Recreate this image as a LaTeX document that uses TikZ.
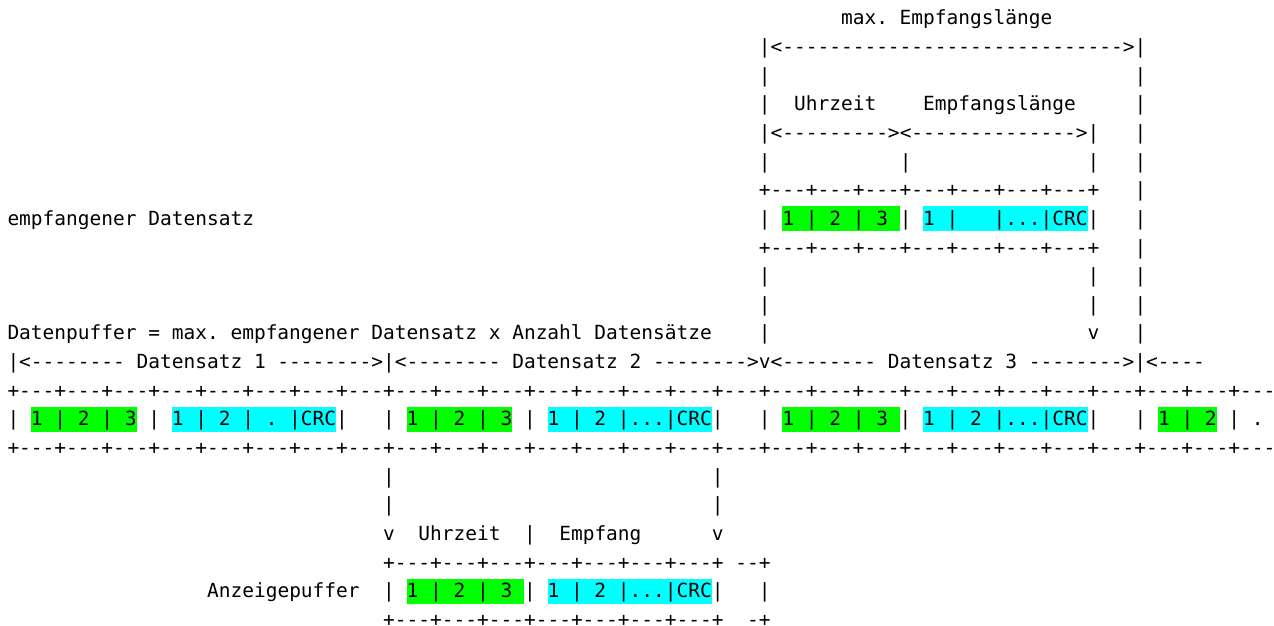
\documentclass[tikz,border=0pt]{standalone}
\usepackage{fontspec}
\setmonofont{DejaVu Sans Mono}
\definecolor{hlgreen}{HTML}{00FF00}
\definecolor{hlcyan}{HTML}{00FFFF}
\tikzset{txt/.style={anchor=base west, inner sep=0pt, outer sep=0pt,
  font=\ttfamily\fontsize{19.5pt}{28pt}\selectfont\frenchspacing}}
\newcommand\putt[4]{\node[txt] (#1) at (#2,#3) {#4};}
\newcommand\hilite[4]{\fill[#1] (#2,#3) ++(0pt,19pt) rectangle ++(#4*11.74pt,-25pt);}
\begin{document}
\begin{tikzpicture}
\useasboundingbox (0pt,0pt) rectangle (1274pt,-626pt);
\fill[white] (0pt,0pt) rectangle (1274pt,-626pt);
\begin{scope}[x=11.74pt, y=-28.64pt, shift={(7.5pt,3.74pt)}]
% highlights
\hilite{hlgreen}{66}{8}{10}
\hilite{hlcyan}{78}{8}{14}
\hilite{hlgreen}{2}{15}{9}
\hilite{hlcyan}{14}{15}{14}
\hilite{hlgreen}{34}{15}{9}
\hilite{hlcyan}{46}{15}{14}
\hilite{hlgreen}{66}{15}{10}
\hilite{hlcyan}{78}{15}{14}
\hilite{hlgreen}{98}{15}{5}
\hilite{hlgreen}{34}{21}{10}
\hilite{hlcyan}{46}{21}{14}
% row 1
\putt{maxlen}{71}{1}{max. Empfangslänge}
% row 2
\putt{r2}{64}{2}{|<----------------------------->|}
% row 3
\putt{r3a}{64}{3}{|}
\putt{r3b}{96}{3}{|}
% row 4
\putt{r4a}{64}{4}{|}
\putt{uhr1}{67}{4}{Uhrzeit}
\putt{emplen}{78}{4}{Empfangslänge}
\putt{r4b}{96}{4}{|}
% row 5
\putt{r5a}{64}{5}{|<--------->}
\putt{r5b}{76}{5}{<-------------->|}
\putt{r5c}{96}{5}{|}
% row 6
\putt{r6a}{64}{6}{|}
\putt{r6b}{76}{6}{|}
\putt{r6c}{92}{6}{|}
\putt{r6d}{96}{6}{|}
% row 7
\putt{r7a}{64}{7}{+---+---+---+---+---+---+---+}
\putt{r7b}{96}{7}{|}
% row 8
\putt{empf}{0}{8}{empfangener Datensatz}
\putt{r8a}{64}{8}{|}
\putt{r8b}{66}{8}{1 | 2 | 3}
\putt{r8c}{76}{8}{|}
\putt{r8d}{78}{8}{1 |}
\putt{r8e}{84}{8}{|...|CRC|}
\putt{r8f}{96}{8}{|}
% row 9
\putt{r9a}{64}{9}{+---+---+---+---+---+---+---+}
\putt{r9b}{96}{9}{|}
% rows 10, 11
\putt{r10a}{64}{10}{|}
\putt{r10b}{92}{10}{|}
\putt{r10c}{96}{10}{|}
\putt{r11a}{64}{11}{|}
\putt{r11b}{92}{11}{|}
\putt{r11c}{96}{11}{|}
% row 12
\putt{dpuf}{0}{12}{Datenpuffer = max. empfangener Datensatz x Anzahl Datensätze}
\putt{r12a}{64}{12}{|}
\putt{r12b}{92}{12}{v}
\putt{r12c}{96}{12}{|}
% row 13
\putt{r13}{0}{13}{|<-------- Datensatz 1 -------->|<-------- Datensatz 2 -------->v<-------- Datensatz 3 -------->|<----}
% row 14
\putt{r14}{0}{14}{+---+---+---+---+---+---+---+---+---+---+---+---+---+---+---+---+---+---+---+---+---+---+---+---+---+---+---}
% row 15
\putt{r15a}{0}{15}{| 1 | 2 | 3 | 1 | 2 | . |CRC|}
\putt{r15b}{32}{15}{| 1 | 2 | 3 | 1 | 2 |...|CRC|}
\putt{r15c}{64}{15}{| 1 | 2 | 3 | 1 | 2 |...|CRC|}
\putt{r15d}{96}{15}{| 1 | 2 | .}
% row 16
\putt{r16}{0}{16}{+---+---+---+---+---+---+---+---+---+---+---+---+---+---+---+---+---+---+---+---+---+---+---+---+---+---+---}
% rows 17, 18
\putt{r17a}{32}{17}{|}
\putt{r17b}{60}{17}{|}
\putt{r18a}{32}{18}{|}
\putt{r18b}{60}{18}{|}
% row 19
\putt{r19a}{32}{19}{v}
\putt{uhr2}{35}{19}{Uhrzeit}
\putt{r19b}{44}{19}{|}
\putt{empfang}{47}{19}{Empfang}
\putt{r19c}{60}{19}{v}
% row 20
\putt{r20a}{32}{20}{+---+---+---+---+---+---+---+}
\putt{r20b}{62}{20}{--+}
% row 21
\putt{anz}{17}{21}{Anzeigepuffer}
\putt{r21a}{32}{21}{| 1 | 2 | 3 | 1 | 2 |...|CRC|}
\putt{r21b}{64}{21}{|}
% row 22
\putt{r22a}{32}{22}{+---+---+---+---+---+---+---+}
\putt{r22b}{63}{22}{-+}
\end{scope}
\end{tikzpicture}
\end{document}
